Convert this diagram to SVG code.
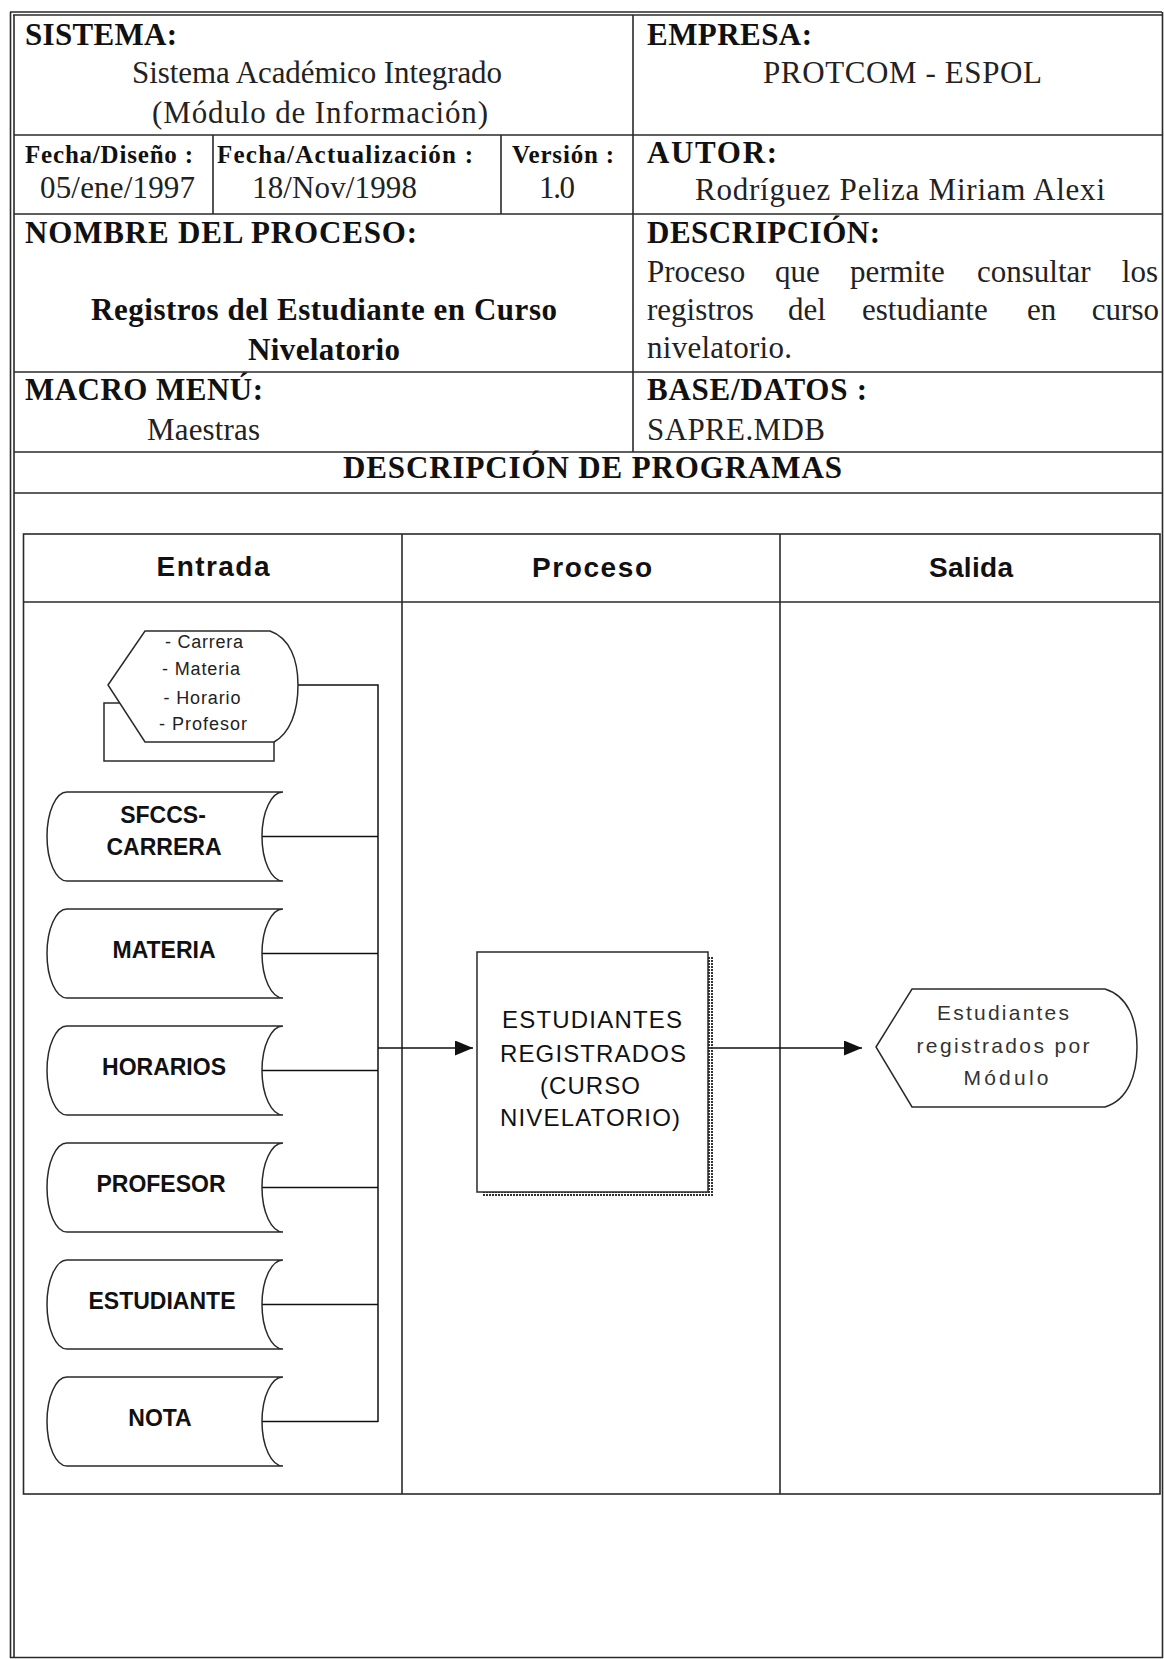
<svg xmlns="http://www.w3.org/2000/svg" width="1164" height="1659" viewBox="0 0 1164 1659">
<style>
.ln{stroke:#2a2a2a;stroke-width:1.6;fill:none}
.tb{font-family:"Liberation Serif","Times New Roman",serif;font-weight:bold;font-size:31px;fill:#111}
.tr{font-family:"Liberation Serif","Times New Roman",serif;font-size:31px;fill:#222}
.ts{font-family:"Liberation Serif","Times New Roman",serif;font-weight:bold;font-size:25px;fill:#111}
.hd{font-family:"Liberation Sans",Arial,sans-serif;font-weight:bold;font-size:28px;fill:#111;text-anchor:middle}
.db{font-family:"Liberation Sans",Arial,sans-serif;font-weight:bold;font-size:23px;fill:#111;text-anchor:middle}
.sm{font-family:"Liberation Sans",Arial,sans-serif;font-size:18px;fill:#222;text-anchor:middle}
.pr{font-family:"Liberation Sans",Arial,sans-serif;font-size:24px;fill:#111;text-anchor:middle}
.ou{font-family:"Liberation Sans",Arial,sans-serif;font-size:21px;fill:#333;text-anchor:middle}
.shape{fill:#fff;stroke:#2a2a2a;stroke-width:1.5}
.conn{stroke:#111;stroke-width:1.5;fill:none}
</style>
<defs>
<marker id="arr" markerWidth="18" markerHeight="15" refX="18" refY="7.5" orient="auto" markerUnits="userSpaceOnUse"><path d="M0,0 L18,7.5 L0,15 Z" fill="#111"/></marker>
<pattern id="chk" width="3" height="3" patternUnits="userSpaceOnUse"><rect width="2" height="2" fill="#333"/></pattern>
</defs>
<rect width="1164" height="1659" fill="#fff"/>

<g id="frame">
<line class="ln" x1="10" y1="12" x2="1162" y2="12" stroke-width="1.4"/>
<line class="ln" x1="13" y1="15" x2="1162" y2="15" stroke-width="1.4"/>
<line class="ln" x1="10.5" y1="12" x2="10.5" y2="1658"/>
<line class="ln" x1="14" y1="15" x2="14" y2="1658"/>
<line class="ln" x1="1162.5" y1="12" x2="1162.5" y2="1658"/>
<line class="ln" x1="10" y1="1657.5" x2="1163" y2="1657.5"/>
<line class="ln" x1="14" y1="135" x2="1162" y2="135"/>
<line class="ln" x1="14" y1="214" x2="1162" y2="214"/>
<line class="ln" x1="14" y1="372" x2="1162" y2="372"/>
<line class="ln" x1="14" y1="452" x2="1162" y2="452"/>
<line class="ln" x1="14" y1="493" x2="1162" y2="493"/>
<line class="ln" x1="633" y1="15" x2="633" y2="452"/>
<line class="ln" x1="213" y1="135" x2="213" y2="214"/>
<line class="ln" x1="501" y1="135" x2="501" y2="214"/>
</g>

<g id="header">
<text class="tb" x="25" y="45" textLength="152">SISTEMA:</text>
<text class="tr" x="317" y="83" text-anchor="middle" textLength="370">Sistema Académico Integrado</text>
<text class="tr" x="320" y="123" text-anchor="middle" textLength="336">(Módulo de Información)</text>
<text class="ts" x="25" y="163" textLength="168">Fecha/Diseño :</text>
<text class="tr" x="40" y="198" textLength="155">05/ene/1997</text>
<text class="ts" x="217" y="163" textLength="256">Fecha/Actualización :</text>
<text class="tr" x="252" y="198" textLength="165">18/Nov/1998</text>
<text class="ts" x="512" y="163" textLength="102">Versión :</text>
<text class="tr" x="539" y="198" textLength="36">1.0</text>
<text class="tb" x="25" y="243" textLength="392">NOMBRE DEL PROCESO:</text>
<text class="tb" x="91" y="320" textLength="466">Registros del Estudiante en Curso</text>
<text class="tb" x="248" y="360" textLength="152">Nivelatorio</text>
<text class="tb" x="25" y="400" textLength="238">MACRO MENÚ:</text>
<text class="tr" x="147" y="440" textLength="113">Maestras</text>
<text class="tb" x="343" y="478" textLength="499">DESCRIPCIÓN DE PROGRAMAS</text>
<text class="tb" x="647" y="45" textLength="165">EMPRESA:</text>
<text class="tr" x="763" y="83" textLength="279">PROTCOM - ESPOL</text>
<text class="tb" x="647" y="163" textLength="130">AUTOR:</text>
<text class="tr" x="695" y="200" textLength="410">Rodríguez Peliza Miriam Alexi</text>
<text class="tb" x="647" y="243" textLength="233">DESCRIPCIÓN:</text>
<text class="tr" x="647" y="282">Proceso</text>
<text class="tr" x="775" y="282">que</text>
<text class="tr" x="850" y="282">permite</text>
<text class="tr" x="977" y="282">consultar</text>
<text class="tr" x="1158" y="282" text-anchor="end">los</text>
<text class="tr" x="647" y="320">registros</text>
<text class="tr" x="788" y="320">del</text>
<text class="tr" x="862" y="320">estudiante</text>
<text class="tr" x="1027" y="320">en</text>
<text class="tr" x="1159" y="320" text-anchor="end">curso</text>
<text class="tr" x="647" y="358" textLength="145">nivelatorio.</text>
<text class="tb" x="647" y="400" textLength="220">BASE/DATOS :</text>
<text class="tr" x="647" y="440" textLength="178">SAPRE.MDB</text>
</g>

<g id="lanes">
<rect class="ln" x="23.5" y="534" width="1136.5" height="960"/>
<line class="ln" x1="23.5" y1="602" x2="1160" y2="602"/>
<line class="ln" x1="402" y1="534" x2="402" y2="1494"/>
<line class="ln" x1="780" y1="534" x2="780" y2="1494"/>
<text class="hd" x="213" y="576" textLength="113">Entrada</text>
<text class="hd" x="592" y="577" textLength="120">Proceso</text>
<text class="hd" x="971" y="577" textLength="84">Salida</text>
</g>

<g id="connectors">
<polyline class="conn" points="298,685 378,685 378,1422"/>
<line class="conn" x1="262" y1="836.5" x2="378" y2="836.5"/>
<line class="conn" x1="262" y1="953.5" x2="378" y2="953.5"/>
<line class="conn" x1="262" y1="1070.5" x2="378" y2="1070.5"/>
<line class="conn" x1="262" y1="1187.5" x2="378" y2="1187.5"/>
<line class="conn" x1="262" y1="1304.5" x2="378" y2="1304.5"/>
<line class="conn" x1="262" y1="1421.5" x2="378" y2="1421.5"/>
<line class="conn" x1="378" y1="1048" x2="473" y2="1048" marker-end="url(#arr)"/>
<line class="conn" x1="708" y1="1048" x2="862" y2="1048" marker-end="url(#arr)"/>
</g>

<g id="node-pantalla">
<rect class="shape" x="104" y="703" width="170" height="58"/>
<path class="shape" d="M108 685 L145 631 L270 631 C290 638 298 660 298 685 C298 712 290 733 274 742 L145 742 Z"/>
<text class="sm" x="204" y="648" textLength="78">- Carrera</text>
<text class="sm" x="201" y="675" textLength="78">- Materia</text>
<text class="sm" x="202" y="704" textLength="77">- Horario</text>
<text class="sm" x="203" y="730" textLength="88">- Profesor</text>
</g>

<g id="node-sfccs-carrera">
<path class="shape" d="M67 792 L283 792 A21 44.5 0 0 0 283 881 L67 881 A20 44.5 0 0 1 67 792 Z"/>
<text class="db" x="163" y="823">SFCCS-</text>
<text class="db" x="164" y="855">CARRERA</text>
</g>
<g id="node-materia">
<path class="shape" d="M67 909 L283 909 A21 44.5 0 0 0 283 998 L67 998 A20 44.5 0 0 1 67 909 Z"/>
<text class="db" x="164" y="958">MATERIA</text>
</g>
<g id="node-horarios">
<path class="shape" d="M67 1026 L283 1026 A21 44.5 0 0 0 283 1115 L67 1115 A20 44.5 0 0 1 67 1026 Z"/>
<text class="db" x="164" y="1075">HORARIOS</text>
</g>
<g id="node-profesor">
<path class="shape" d="M67 1143 L283 1143 A21 44.5 0 0 0 283 1232 L67 1232 A20 44.5 0 0 1 67 1143 Z"/>
<text class="db" x="161" y="1192">PROFESOR</text>
</g>
<g id="node-estudiante">
<path class="shape" d="M67 1260 L283 1260 A21 44.5 0 0 0 283 1349 L67 1349 A20 44.5 0 0 1 67 1260 Z"/>
<text class="db" x="162" y="1309">ESTUDIANTE</text>
</g>
<g id="node-nota">
<path class="shape" d="M67 1377 L283 1377 A21 44.5 0 0 0 283 1466 L67 1466 A20 44.5 0 0 1 67 1377 Z"/>
<text class="db" x="160" y="1426">NOTA</text>
</g>

<g id="node-proceso">
<rect x="482" y="957" width="232" height="240" fill="url(#chk)"/>
<rect class="shape" x="477" y="952" width="231" height="240"/>
<text class="pr" x="592" y="1028" textLength="180">ESTUDIANTES</text>
<text class="pr" x="593" y="1062" textLength="186">REGISTRADOS</text>
<text class="pr" x="590" y="1094" textLength="100">(CURSO</text>
<text class="pr" x="590" y="1126" textLength="180">NIVELATORIO)</text>
</g>

<g id="node-salida">
<path class="shape" d="M876 1047 L912 989 L1105 989 C1128 996 1137 1020 1137 1047 C1137 1075 1128 1100 1105 1107 L912 1107 Z"/>
<text class="ou" x="1003" y="1020" textLength="132">Estudiantes</text>
<text class="ou" x="1003" y="1053" textLength="173">registrados por</text>
<text class="ou" x="1006" y="1085" textLength="85">Módulo</text>
</g>
</svg>
